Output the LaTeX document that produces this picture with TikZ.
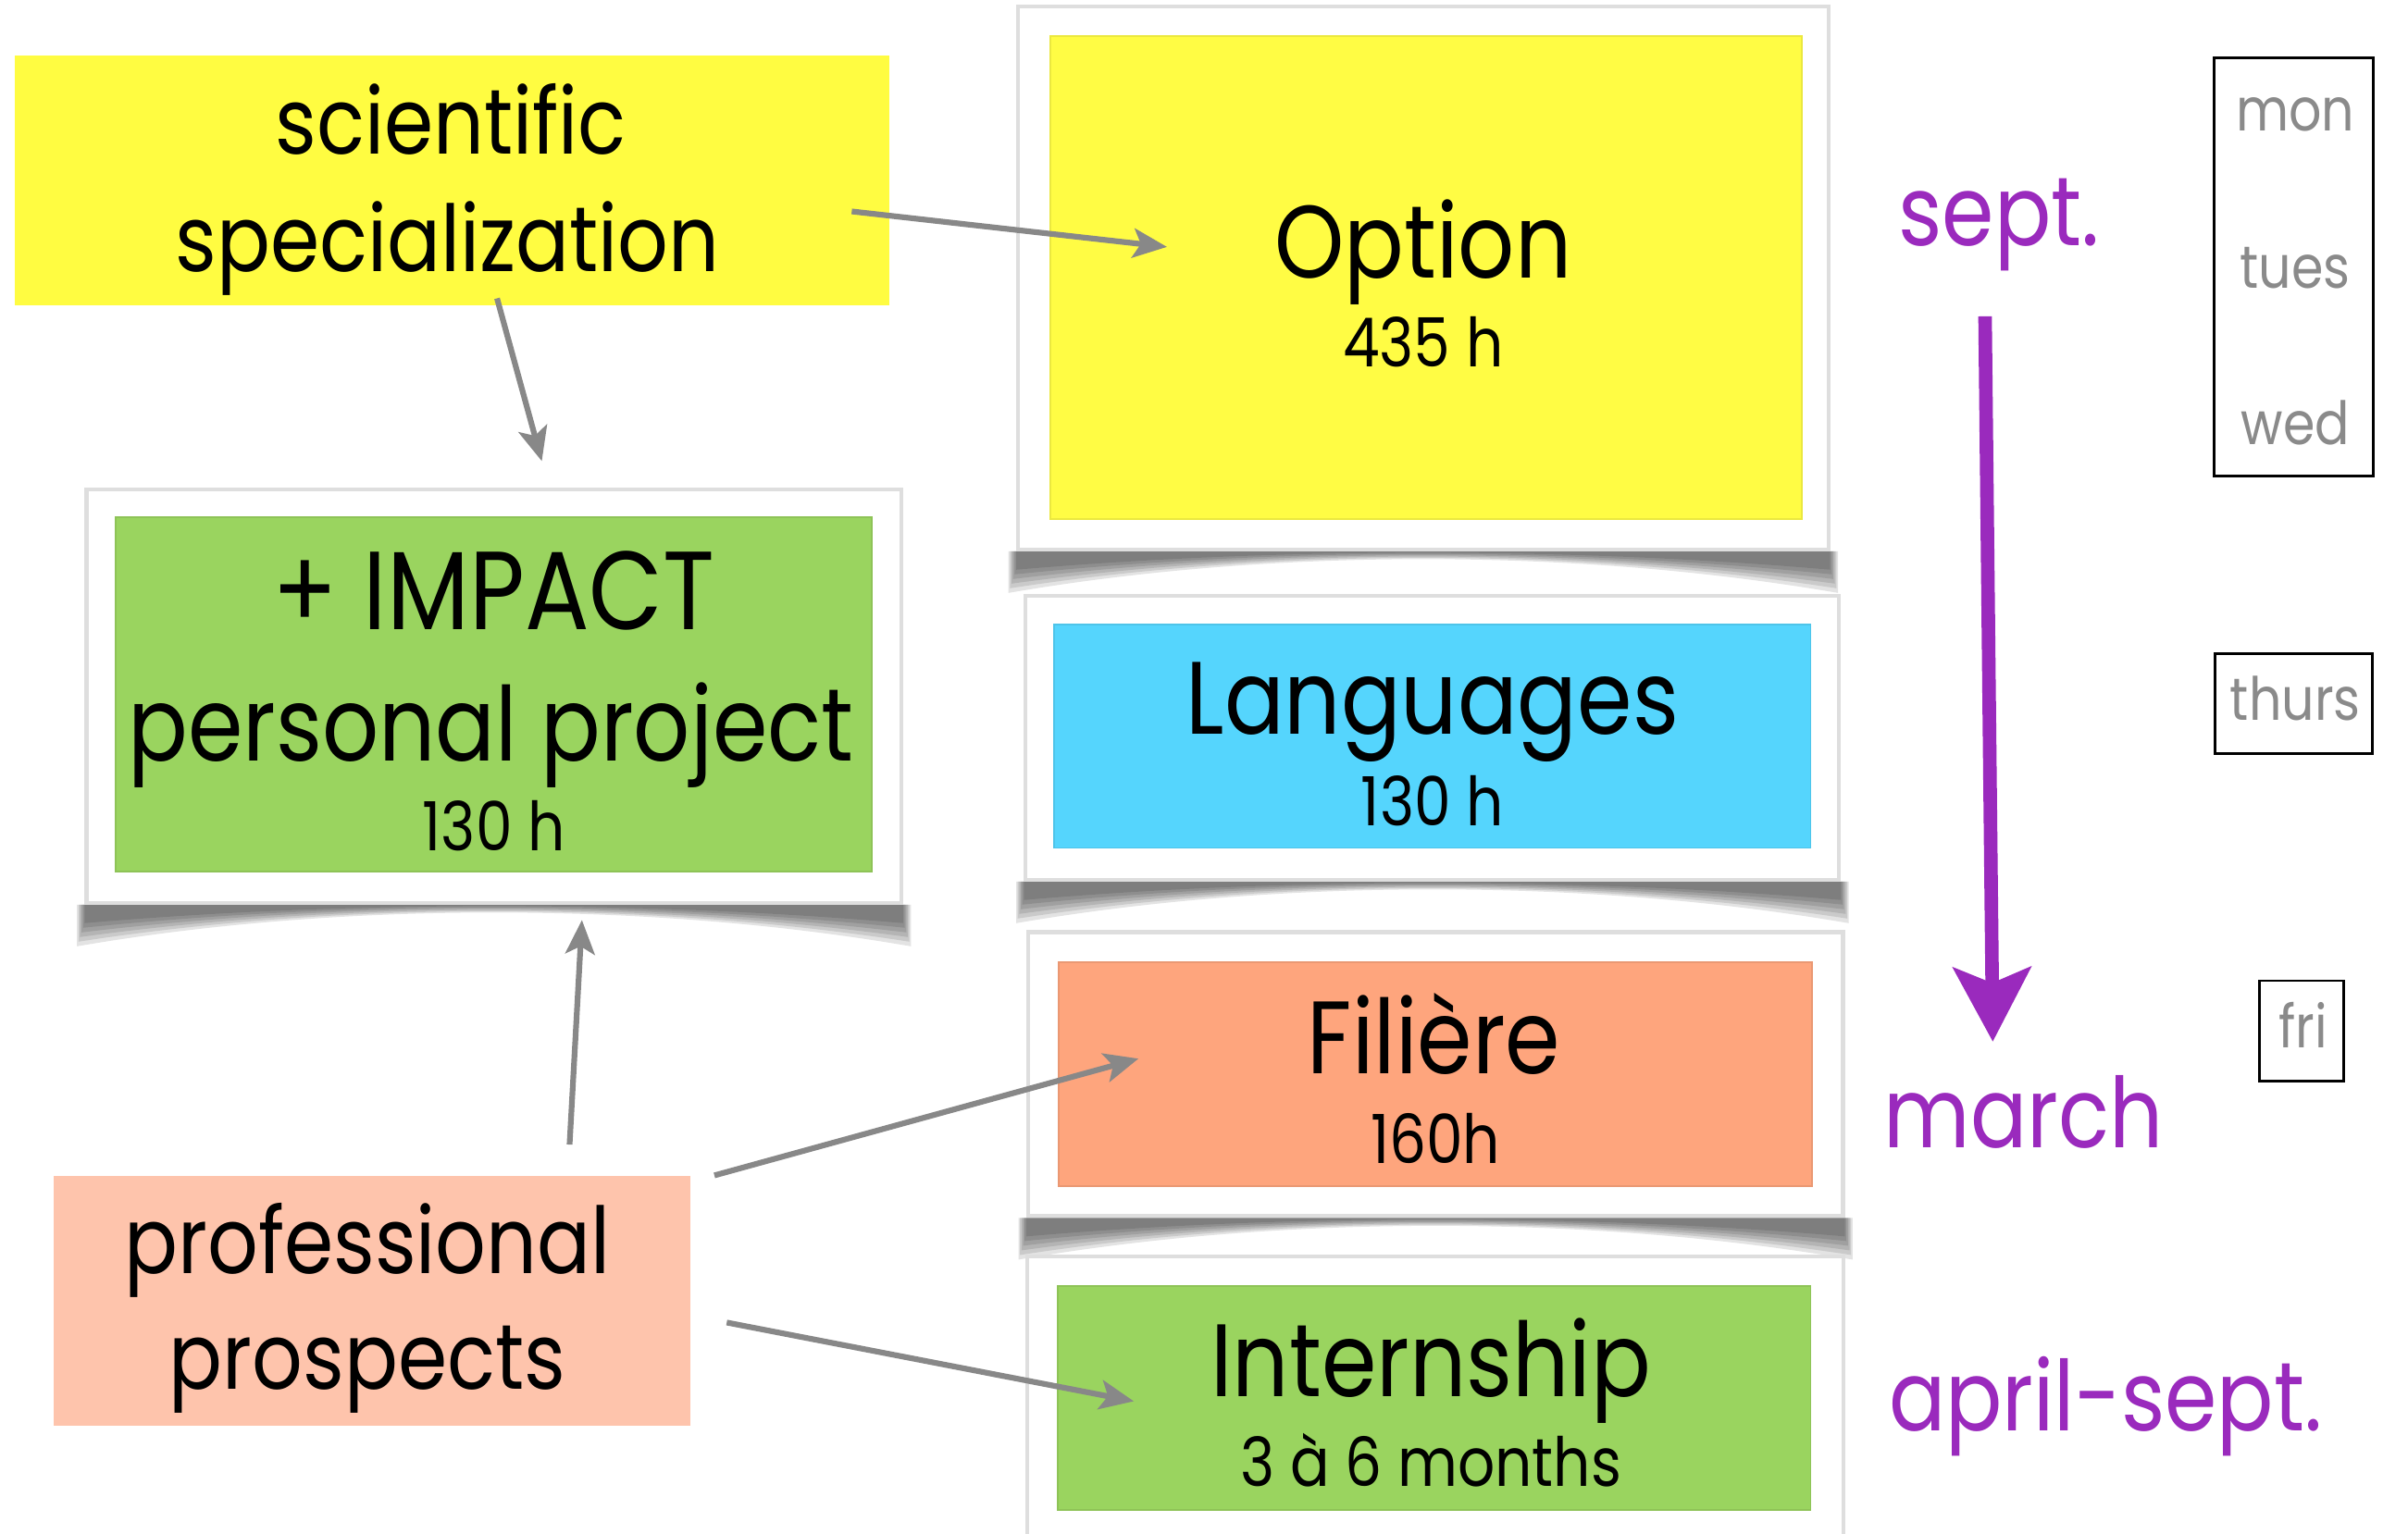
\documentclass[tikz,border=0pt]{standalone}
\usepackage{fontspec}
\setmainfont{Poppins}[FakeStretch=0.86]
\usetikzlibrary{arrows.meta,positioning,backgrounds}

\definecolor{sciyellow}{HTML}{FFFC41}
\definecolor{optyellow}{HTML}{FFFC44}
\definecolor{langblue}{HTML}{55D5FD}
\definecolor{filsalmon}{HTML}{FEA57D}
\definecolor{projgreen}{HTML}{9AD45F}
\definecolor{prospeach}{HTML}{FEC4AC}
\definecolor{monthpurple}{HTML}{9A2ABD}
\definecolor{arrowgray}{HTML}{888888}
\definecolor{daygray}{HTML}{8A8A8A}

\tikzset{
  card/.style={rectangle, fill=white, draw=black!13, line width=1.4pt, inner sep=0pt},
  tile/.style={rectangle, fill=#1, draw=#1!92!black, line width=0.6pt, inner sep=0pt},
  pad/.style={rectangle, fill=#1, inner sep=0pt},
  bigtxt/.style={anchor=base, inner sep=0pt, font=\fontsize{38}{46}\selectfont},
  hours/.style={anchor=base, inner sep=0pt, font=\fontsize{25}{30}\selectfont},
  topic/.style={anchor=base, inner sep=0pt, font=\fontsize{34}{42}\selectfont},
  month/.style={anchor=base, inner sep=0pt, text=monthpurple, font=\fontsize{36}{44}\selectfont},
  day/.style={anchor=base, inner sep=0pt, text=daygray, font=\fontsize{22}{26}\selectfont},
  daybox/.style={rectangle, draw=black, line width=1pt, inner sep=0pt},
  link/.style={draw=arrowgray, line width=2.1pt, -{Stealth[length=0.44cm, width=0.38cm, inset=0.1cm]}},
  timeline/.style={draw=monthpurple, line width=5pt, -{Stealth[length=0.96cm, width=1cm, inset=0.2cm]}},
}

\begin{document}
\begin{tikzpicture}[x=0.02cm, y=-0.02cm]
\useasboundingbox (0,0) rectangle (1560,994);

% left column
\node[pad=sciyellow, minimum width=11.34cm, minimum height=3.24cm] (sci) at (293,117) {};
\node[card, minimum width=10.56cm, minimum height=5.36cm] (impcard) at (320,451) {};
\node[tile=projgreen, minimum width=9.8cm, minimum height=4.6cm] (imp) at (320,450) {};
\node[pad=prospeach, minimum width=8.26cm, minimum height=3.24cm] (prosp) at (241,843) {};

% right column
\node[card, minimum width=10.5cm, minimum height=7.04cm] (optcard) at (922,180) {};
\node[tile=optyellow, minimum width=9.74cm, minimum height=6.26cm] (opt) at (924,180) {};
\node[card, minimum width=10.54cm, minimum height=3.68cm] (langcard) at (928,478) {};
\node[tile=langblue, minimum width=9.8cm, minimum height=2.9cm] (lang) at (928,477) {};
\node[card, minimum width=10.56cm, minimum height=3.68cm] (filcard) at (930,696) {};
\node[tile=filsalmon, minimum width=9.76cm, minimum height=2.9cm] (fil) at (930,696) {};
\node[card, minimum width=10.58cm, minimum height=3.92cm] (intcard) at (930,912) {};
\node[tile=projgreen, minimum width=9.76cm, minimum height=2.9cm] (int) at (929,906) {};

% curled shadows under the cards, a few soft layers each
\begin{pgfonlayer}{background}
\foreach \c in {impcard,optcard,langcard,filcard}
  \foreach \k in {0,...,5}
    \fill[black, opacity=0.11]
      ([shift={(-\k,0)}]\c.south west) -- ([shift={(\k,0)}]\c.south east)
      -- ([shift={(\k,12+3*\k)}]\c.south east)
      .. controls +(-170,{-14.7-2.9*\k}) and +(170,{-14.7-2.9*\k}) .. ([shift={(-\k,12+3*\k)}]\c.south west) -- cycle;
\end{pgfonlayer}

% texts
\node[topic] (scione) at (292,100) {scientific};
\node[topic] (scitwo) at (290,176) {specialization};
\node[bigtxt, font=\fontsize{41}{48}\selectfont] (impone) at (320,408) {+ IMPACT};
\node[bigtxt] (imptwo) at (318,493) {personal project};
\node[hours] (imphours) at (320,551) {130 h};
\node[topic] (prospone) at (238,825) {professional};
\node[topic] (prosptwo) at (238,900) {prospects};

\node[bigtxt] (optname) at (922,180) {Option};
\node[hours] (opthours) at (922,238) {435 h};
\node[bigtxt] (langname) at (928,476) {Languages};
\node[hours] (langhours) at (928,535) {130 h};
\node[bigtxt] (filname) at (929,696) {Filière};
\node[hours] (filhours) at (930,754) {160h};
\node[bigtxt] (intname) at (927,905) {Internship};
\node[hours] (inthours) at (927,963) {3 à 6 months};

% months
\node[month] (sept) at (1295,159) {sept.};
\node[month] (march) at (1311,744) {march};
\node[month] (april) at (1364,927) {april-sept.};
\draw[timeline] ([shift={(-9,46)}]sept.base) -- ([shift={(-20,-69)}]march.base);

% days
\node[daybox, minimum width=2.06cm, minimum height=5.42cm] (monbox) at (1486,173) {};
\node[day] (mon) at (1487,85) {mon};
\node[day] (tues) at (1487,187) {tues};
\node[day] (wed) at (1487,288) {wed};
\node[daybox, minimum width=2.04cm, minimum height=1.3cm] (thursbox) at (1486,456) {};
\node[day] (thurs) at (1487,467) {thurs};
\node[daybox, minimum width=1.1cm, minimum height=1.3cm] (fribox) at (1491,668) {};
\node[day] (fri) at (1492,679) {fri};

% links
\draw[link] ([shift={(-25,20)}]sci.east) -- ([shift={(76,-20)}]opt.west);
\draw[link] ([shift={(29,-5)}]sci.south) -- ([shift={(31,-17)}]impcard.north);
\draw[link] ([shift={(128,-20)}]prosp.north) -- ([shift={(57,10)}]impcard.south);
\draw[link] ([shift={(15,0)}]prosp.north east) -- ([shift={(52,-10)}]fil.west);
\draw[link] ([shift={(23,14)}]prosp.east) -- ([shift={(50,2)}]int.west);
\end{tikzpicture}
\end{document}
